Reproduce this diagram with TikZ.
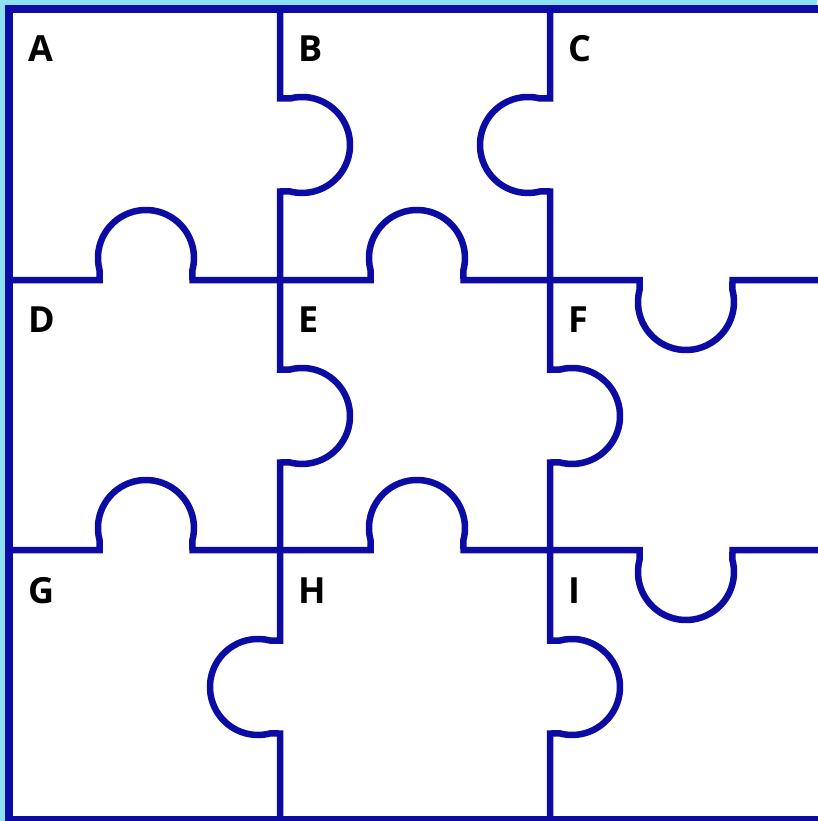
\documentclass[tikz,border=0pt]{standalone}
\usepackage{fontspec}
\setmainfont{Open Sans}
\definecolor{lineblue}{RGB}{12,12,165}
\definecolor{bgcyan}{RGB}{140,224,242}
\newcommand{\tabH}[3]{-- ({#1-46.5},#2) -- ({#1-46.5},{#2+#3*10}) arc[start angle={180+#3*14.5}, end angle={-#3*14.5+180-#3*180}, radius=48] -- ({#1+46.5},#2)}
\newcommand{\tabV}[3]{-- (#1,{#2-46.5}) -- ({#1+#3*10},{#2-46.5}) arc[start angle={-90-#3*14.5}, end angle={90+#3*14.5+(#3-1)*180}, radius=48] -- (#1,{#2+46.5})}
\tikzset{
  grid line/.style={draw=lineblue, line width=6.5pt, line join=miter},
  frame line/.style={draw=lineblue, line width=8pt},
  letter/.style={anchor=base west, inner sep=0pt, font=\fontsize{36}{40}\selectfont\bfseries, text=black}
}
\begin{document}
\begin{tikzpicture}[x=1pt, y=-1pt]
\useasboundingbox (0,0) rectangle (817,821);
\fill[bgcyan] (0,0) rectangle (817,821);
\fill[white] (9,9) rectangle (822,820);
% horizontal seams
\draw[grid line] (9,280) \tabH{146}{280}{-1} \tabH{417}{280}{-1} \tabH{686}{280}{1} -- (821,280);
\draw[grid line] (9,550) \tabH{146}{550}{-1} \tabH{417}{550}{-1} \tabH{686}{550}{1} -- (821,550);
% vertical seams
\draw[grid line] (280,9) \tabV{280}{145}{1} \tabV{280}{416}{1} \tabV{280}{687}{-1} -- (280,820);
\draw[grid line] (550,9) \tabV{550}{145}{-1} \tabV{550}{416}{1} \tabV{550}{687}{1} -- (550,820);
% frame
\draw[frame line] (9,9) rectangle (822,820);
% labels
\node[letter] (A) at (28,62) {A};
\node[letter] (B) at (298,62) {B};
\node[letter] (C) at (568,62) {C};
\node[letter] (D) at (28,332) {D};
\node[letter] (E) at (298,332) {E};
\node[letter] (F) at (568,332) {F};
\node[letter] (G) at (28,603) {G};
\node[letter] (H) at (298,603) {H};
\node[letter] (I) at (568,603) {I};
\end{tikzpicture}
\end{document}
